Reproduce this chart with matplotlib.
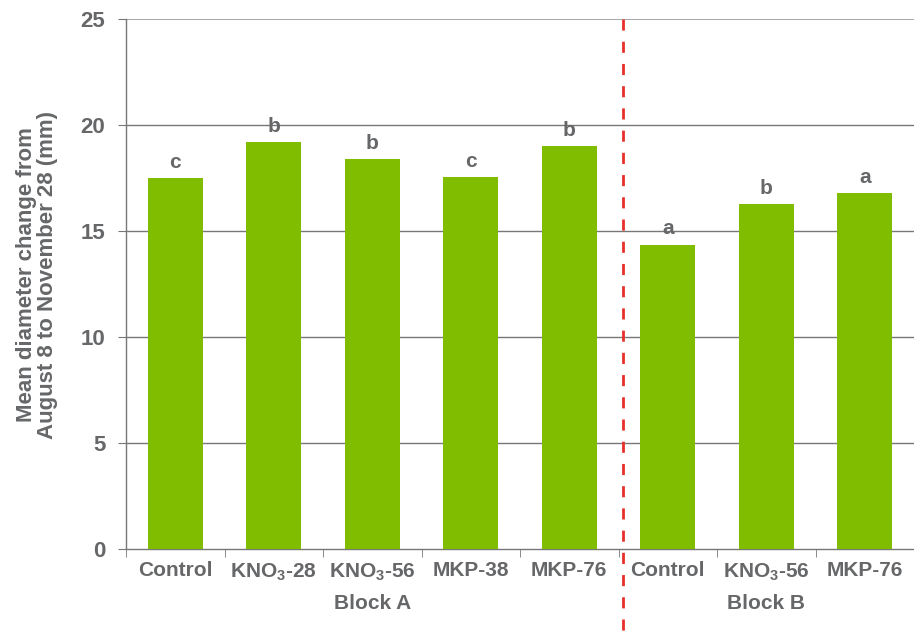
import matplotlib
matplotlib.use('Agg')
import matplotlib.pyplot as plt

# datos
categorias = ["Control", "KNO$_3$-28", "KNO$_3$-56", "MKP-38", "MKP-76",
              "Control", "KNO$_3$-56", "MKP-76"]
valores = [17.5, 19.2, 18.4, 17.55, 19.0, 14.35, 16.27, 16.8]
letras = ["c", "b", "b", "c", "b", "a", "b", "a"]
bloques = ["Block A", "Block B"]

verde = "#80bc00"
gris = "#666769"

plt.rcParams['font.family'] = ['Liberation Sans', 'DejaVu Sans']
plt.rcParams['font.weight'] = 'bold'
plt.rcParams['mathtext.fontset'] = 'custom'
plt.rcParams['mathtext.rm'] = 'Liberation Sans:bold'
plt.rcParams['mathtext.it'] = 'Liberation Sans:bold'
plt.rcParams['mathtext.bf'] = 'Liberation Sans:bold'

fig = plt.figure(figsize=(9.14, 6.39), dpi=100)
ax = fig.add_axes([0.138, 0.141, 0.862, 0.829])

x = list(range(len(categorias)))
ax.bar(x, valores, width=0.56, color=verde, zorder=3)

# letras de significancia
for xi, v, l in zip(x, valores, letras):
    ax.text(xi, v + 0.3, l, ha="center", va="bottom", fontsize=15,
            color=gris, fontweight="bold")

ax.set_xlim(-0.5, len(categorias) - 0.5)
ax.set_ylim(0, 25)
ax.set_yticks([0, 5, 10, 15, 20, 25])

# lineas de grilla
for y in [5, 10, 15, 20]:
    ax.axhline(y, color="#777777", lw=1, zorder=1)
ax.axhline(25, color="#aaaaaa", lw=1.5, zorder=1)

ax.set_xticks(x)
ax.set_xticklabels(categorias)
ax.set_xticks([i + 0.5 for i in range(-1, len(categorias))], minor=True)
ax.tick_params(axis="x", which="major", length=0, pad=9, labelsize=15, labelcolor=gris)
ax.tick_params(axis="x", which="minor", length=6, color="#777777", direction="out")
ax.tick_params(axis="y", length=6, color="#777777", labelsize=16, labelcolor=gris, pad=9)
plt.setp(ax.get_xticklabels() + ax.get_yticklabels(), fontweight="bold")

for s in ["top", "right"]:
    ax.spines[s].set_visible(False)
for s in ["left", "bottom"]:
    ax.spines[s].set_color("#777777")
    ax.spines[s].set_linewidth(1)

ax.set_ylabel("Mean diameter change from\nAugust 8 to November 28 (mm)",
              fontsize=16, color=gris, fontweight="bold", linespacing=1.05)
ax.yaxis.set_label_coords(-0.086, 0.517)

# etiquetas de bloque
ax.text(2.0, -0.085, bloques[0], transform=ax.get_xaxis_transform(),
        ha="center", va="top", fontsize=15, color=gris, fontweight="bold")
ax.text(6.0, -0.085, bloques[1], transform=ax.get_xaxis_transform(),
        ha="center", va="top", fontsize=15, color=gris, fontweight="bold")

# linea divisoria roja
ax.plot([4.55, 4.55], [1.0, -0.35], transform=ax.get_xaxis_transform(),
        color="#e8302a", lw=2, ls=(0, (4, 4)), clip_on=False, zorder=4)

fig.savefig("out.png", dpi=100)
plt.close()
